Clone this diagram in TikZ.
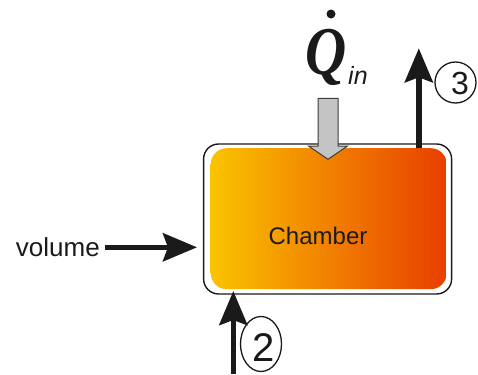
\documentclass[tikz,border=0pt]{standalone}
\usepackage{fontspec}
\setmainfont{Liberation Sans}
\newfontfamily\qfont{Liberation Serif}
\usetikzlibrary{arrows.meta,shapes.geometric}
\definecolor{chamL}{RGB}{250,195,0}
\definecolor{chamR}{RGB}{232,62,0}
\definecolor{ink}{RGB}{26,26,26}
\definecolor{heatgray}{RGB}{196,196,196}
\definecolor{edgegray}{RGB}{60,60,60}
\tikzset{
  flow/.style={draw=ink, line width=5.5pt, -{Stealth[length=34pt,width=28pt,inset=5pt]}},
  outerbox/.style={draw=ink, line width=1.4pt, rounded corners=15pt, inner sep=0pt},
  chamberbox/.style={rounded corners=16pt, left color=chamL, right color=chamR, inner sep=0pt},
  ring/.style={draw=ink, line width=1.3pt, ellipse, inner sep=0pt},
  heat/.style={fill=heatgray, draw=edgegray, line width=1pt, line join=miter},
}
\begin{document}
\begin{tikzpicture}[x=1pt,y=-1pt]
\useasboundingbox (0,0) rectangle (478,374);
% boxes
\node[outerbox, minimum width=248, minimum height=150] (outer) at (327.6,219) {};
\node[chamberbox, minimum width=236, minimum height=141] (chamber) at (328.7,218.7) {};
\node[text=ink, font=\fontsize{24}{24}\selectfont] (chtext) at (318,236) {Chamber};
% heat input
\coordinate (htop) at (328,98.3);
\draw[heat] ([xshift=-10pt]htop) -- ([xshift=10pt]htop) -- ++(0,47.7) -- ++(9.5,0)
  -- (328,159.3) -- ++(-19.5,-13.3) -- ++(9.5,0) -- cycle;
\node[text=ink, font=\qfont\bfseries\itshape\fontsize{60}{60}\selectfont, anchor=base, inner sep=0pt] (qsym) at (326,75) {\scalebox{0.95}[1.14]{Q}};
\node[circle, fill=ink, inner sep=0pt, minimum size=9pt] (qdot) at (331,14) {};
\node[text=ink, font=\itshape\fontsize{25}{25}\selectfont, anchor=base west, inner sep=0pt] (qin) at (348,85) {in};
% volume
\node[text=ink, anchor=base east, inner sep=0pt, font=\fontsize{26}{26}\selectfont] (volume) at (100,256) {volume};
\coordinate (vtip) at (197,247.3);
\draw[flow] ([xshift=5pt]volume.east |- vtip) -- (vtip);
% stream 2
\coordinate (in2) at (233.3,374);
\coordinate (tip2) at (233.3,291);
\draw[flow] (in2) -- (tip2);
\node[ring, minimum width=41pt, minimum height=55pt] (c2) at (261,344) {};
\node[text=ink, inner sep=0pt, font=\fontsize{40}{40}\selectfont] (n2) at (264,347.5) {2};
% stream 3
\coordinate (tip3) at (418.8,48.3);
\draw[flow] (chamber.north -| tip3) -- (tip3);
\node[ring, minimum width=41pt, minimum height=41pt] (c3) at (455.5,82.5) {};
\node[text=ink, inner sep=0pt, font=\fontsize{32}{32}\selectfont] (n3) at (460,83.5) {3};
\end{tikzpicture}
\end{document}
